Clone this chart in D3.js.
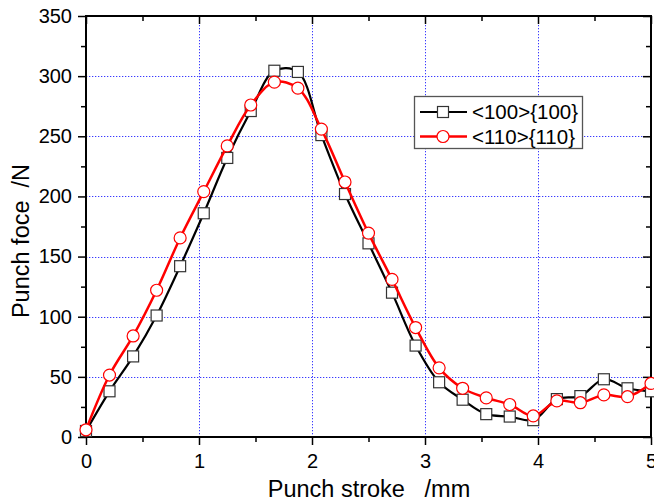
<!DOCTYPE html>
<html>
<head>
<meta charset="utf-8">
<script src="https://cdn.jsdelivr.net/npm/d3@7"></script>
<style>
  html, body { margin: 0; padding: 0; background: #fff; }
  svg { display: block; }
  text { font-family: Arial, "Liberation Sans", sans-serif; fill: #000; }
</style>
</head>
<body>
<svg id="chart" width="654" height="504"></svg>
<script>
// ---- data ----
const strokeMm = [0, 0.208, 0.417, 0.625, 0.833, 1.042, 1.25, 1.458, 1.667, 1.875, 2.083, 2.292, 2.5,
                  2.708, 2.917, 3.125, 3.333, 3.542, 3.75, 3.958, 4.167, 4.375, 4.583, 4.792, 5.0];
const force100 = [5, 38, 67, 101, 142, 186, 232, 271, 304.5, 303.5, 251, 202, 161,
                  120, 76, 45.5, 31, 19, 17, 14, 31.5, 34, 48, 40.5, 38];
const force110 = [6, 51.5, 84, 122, 165.5, 204, 242, 276, 295, 290, 256, 212, 169.5,
                  131, 91, 57.5, 40.5, 32.5, 27, 17.5, 30, 28.5, 35, 33.5, 44.5];
const seriesNames = ["<100>{100}", "<110>{110}"];
const xMajorTicks = [0, 1, 2, 3, 4, 5];
const xMinorTicks = [0.5, 1.5, 2.5, 3.5, 4.5];
const yMajorTicks = [0, 50, 100, 150, 200, 250, 300, 350];
const yMinorTicks = [25, 75, 125, 175, 225, 275, 325];
const xGrid = [1, 2, 3, 4];
const yGrid = [50, 100, 150, 200, 250, 300];
const xTitle = "Punch stroke   /mm";
const yTitle = "Punch foce  /N";

// ---- layout ----
const L = 86, R = 651, T = 16, B = 437;
const svg = d3.select("#chart");
const x = d3.scaleLinear().domain([0, 5]).range([L, R]);
const y = d3.scaleLinear().domain([0, 350]).range([B, T]);

// grid
const grid = svg.append("g").attr("stroke", "#3a3aff").attr("stroke-width", 1)
  .attr("stroke-dasharray", "1.3,1.7");
grid.selectAll("line.gx").data(xGrid).join("line")
  .attr("x1", d => Math.round(x(d)) + 0.5).attr("x2", d => Math.round(x(d)) + 0.5)
  .attr("y1", T).attr("y2", B);
grid.selectAll("line.gy").data(yGrid).join("line")
  .attr("y1", d => Math.round(y(d)) + 0.5).attr("y2", d => Math.round(y(d)) + 0.5)
  .attr("x1", L).attr("x2", R);

// axes
function styleAxis(g) {
  g.select(".domain").remove();
  g.selectAll(".tick line").attr("stroke", "#000").attr("stroke-width", 1.5);
  g.selectAll("text").style("font-size", "20px").attr("fill", "#000");
}
svg.append("g").attr("transform", `translate(0,${B})`)
  .call(d3.axisBottom(x).tickValues(xMajorTicks).tickFormat(d3.format("d")).tickSize(8).tickPadding(9))
  .call(styleAxis);
svg.append("g").attr("transform", `translate(0,${B})`)
  .call(d3.axisBottom(x).tickValues(xMinorTicks).tickFormat("").tickSize(5))
  .call(styleAxis);
svg.append("g").attr("transform", `translate(${L},0)`)
  .call(d3.axisLeft(y).tickValues(yMajorTicks).tickFormat(d3.format("d")).tickSize(8).tickPadding(6))
  .call(styleAxis);
svg.append("g").attr("transform", `translate(${L},0)`)
  .call(d3.axisLeft(y).tickValues(yMinorTicks).tickFormat("").tickSize(5))
  .call(styleAxis);
// top & right (ticks inward)
svg.append("g").attr("transform", `translate(0,${T})`)
  .call(d3.axisTop(x).tickValues(xMajorTicks).tickFormat("").tickSize(-8))
  .call(styleAxis);
svg.append("g").attr("transform", `translate(0,${T})`)
  .call(d3.axisTop(x).tickValues(xMinorTicks).tickFormat("").tickSize(-5))
  .call(styleAxis);
svg.append("g").attr("transform", `translate(${R},0)`)
  .call(d3.axisRight(y).tickValues(yMajorTicks).tickFormat("").tickSize(-8))
  .call(styleAxis);
svg.append("g").attr("transform", `translate(${R},0)`)
  .call(d3.axisRight(y).tickValues(yMinorTicks).tickFormat("").tickSize(-5))
  .call(styleAxis);
// frame
svg.append("rect").attr("x", L).attr("y", T).attr("width", R - L).attr("height", B - T)
  .attr("fill", "none").attr("stroke", "#000").attr("stroke-width", 2);

// series
const line = d3.line().x(d => x(d[0])).y(d => y(d[1])).curve(d3.curveCatmullRom.alpha(0.5));
const d100 = strokeMm.map((s, i) => [s, force100[i]]);
const d110 = strokeMm.map((s, i) => [s, force110[i]]);

svg.append("path").datum(d100).attr("d", line).attr("fill", "none")
  .attr("stroke", "#000").attr("stroke-width", 2.2);
svg.append("g").selectAll("rect").data(d100).join("rect")
  .attr("x", d => x(d[0]) - 5.5).attr("y", d => y(d[1]) - 5.5)
  .attr("width", 11).attr("height", 11)
  .attr("fill", "#fff").attr("stroke", "#333").attr("stroke-width", 1.2);

svg.append("path").datum(d110).attr("d", line).attr("fill", "none")
  .attr("stroke", "#ff0000").attr("stroke-width", 2.5);
svg.append("g").selectAll("circle").data(d110).join("circle")
  .attr("cx", d => x(d[0])).attr("cy", d => y(d[1])).attr("r", 6)
  .attr("fill", "#fff").attr("stroke", "#ff0000").attr("stroke-width", 1.2);

// axis titles
svg.append("text").attr("x", 369).attr("y", 497).attr("text-anchor", "middle")
  .style("font-size", "23.5px").style("white-space", "pre").text(xTitle);
svg.append("text").attr("transform", "translate(28.5,241) rotate(-90)").attr("text-anchor", "middle")
  .style("font-size", "23.5px").style("white-space", "pre").text(yTitle);

// legend
const lg = svg.append("g");
lg.append("rect").attr("x", 414.5).attr("y", 96.5).attr("width", 168).attr("height", 52)
  .attr("fill", "#fff").attr("stroke", "#555").attr("stroke-width", 1.3);
const legendRows = [
  { name: seriesNames[0], color: "#000", mk: "square", yy: 112, w: 2.2 },
  { name: seriesNames[1], color: "#ff0000", mk: "circle", yy: 136.5, w: 2.5 }
];
legendRows.forEach(r => {
  lg.append("line").attr("x1", 420).attr("x2", 467).attr("y1", r.yy).attr("y2", r.yy)
    .attr("stroke", r.color).attr("stroke-width", r.w);
  if (r.mk === "square") {
    lg.append("rect").attr("x", 443 - 5.5).attr("y", r.yy - 5.5).attr("width", 11).attr("height", 11)
      .attr("fill", "#fff").attr("stroke", "#333").attr("stroke-width", 1.2);
  } else {
    lg.append("circle").attr("cx", 443).attr("cy", r.yy).attr("r", 6)
      .attr("fill", "#fff").attr("stroke", "#ff0000").attr("stroke-width", 1.2);
  }
  lg.append("text").attr("x", 472).attr("y", r.yy + 7).style("font-size", "20.5px").text(r.name);
});
</script>
</body>
</html>
